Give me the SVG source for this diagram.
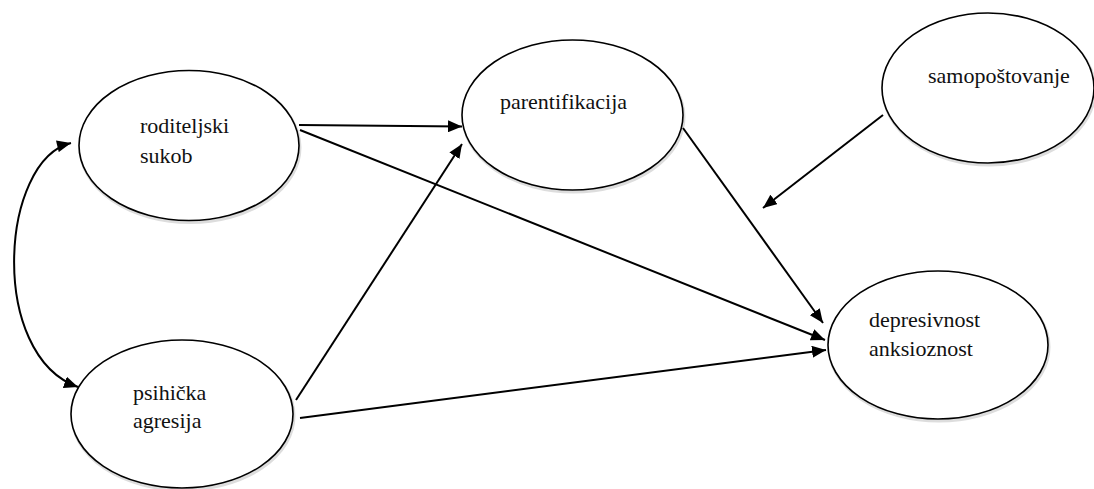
<svg xmlns="http://www.w3.org/2000/svg" width="1094" height="489" viewBox="0 0 1094 489">
<style>
.node ellipse{fill:#fff;stroke:#000;stroke-width:1.6}
.shadow{fill:none;stroke:#ddd;stroke-width:3}
text{font-size:22px;fill:#111}
.conn path,.conn line{fill:none;stroke:#000;stroke-width:2}
</style>
<defs>
<marker id="ah" markerUnits="userSpaceOnUse" markerWidth="16" markerHeight="12" refX="14" refY="6" orient="auto">
<path d="M0,0 L14,6 L0,12 Z" fill="#000"/>
</marker>
<marker id="ahs" markerUnits="userSpaceOnUse" markerWidth="16" markerHeight="12" refX="0" refY="6" orient="auto">
<path d="M14,0 L0,6 L14,12 Z" fill="#000"/>
</marker>
</defs>
<rect width="1094" height="489" fill="#fff"/>
<g font-family="Liberation Serif, DejaVu Serif, serif">
<g id="roditeljski">
<ellipse class="shadow" cx="190" cy="147.5" rx="110" ry="75"/>
<g class="node"><ellipse cx="189" cy="145.5" rx="110" ry="75"/></g>
<text x="140" y="133">roditeljski</text>
<text x="140" y="163">sukob</text>
</g>
<g id="psihicka">
<ellipse class="shadow" cx="183" cy="416" rx="111" ry="74"/>
<g class="node"><ellipse cx="182" cy="414" rx="111" ry="74"/></g>
<text x="133" y="400">psihička</text>
<text x="133" y="428">agresija</text>
</g>
<g id="parentifikacija">
<ellipse class="shadow" cx="573.5" cy="117" rx="110.5" ry="75"/>
<g class="node"><ellipse cx="572.5" cy="115" rx="110.5" ry="75"/></g>
<text x="500" y="109">parentifikacija</text>
</g>
<g id="samopostovanje">
<ellipse class="shadow" cx="989" cy="90" rx="106" ry="75"/>
<g class="node"><ellipse cx="988" cy="88" rx="106" ry="75"/></g>
<text x="928" y="83">samopoštovanje</text>
</g>
<g id="depresivnost">
<ellipse class="shadow" cx="939" cy="347" rx="110" ry="74"/>
<g class="node"><ellipse cx="938" cy="345" rx="110" ry="74"/></g>
<text x="869" y="327">depresivnost</text>
<text x="869" y="356">anksioznost</text>
</g>
</g>
<g id="connectors" class="conn">
<path d="M71,143 C0,160 -12,355 78,387" marker-start="url(#ahs)" marker-end="url(#ah)"/>
<line x1="299" y1="125" x2="462" y2="126.5" marker-end="url(#ah)"/>
<line x1="300" y1="130" x2="825" y2="340" marker-end="url(#ah)"/>
<line x1="296" y1="400" x2="462" y2="144" marker-end="url(#ah)"/>
<line x1="300" y1="418" x2="826" y2="350" marker-end="url(#ah)"/>
<line x1="683" y1="128" x2="823" y2="323" marker-end="url(#ah)"/>
<line x1="883" y1="115" x2="763" y2="208" marker-end="url(#ah)"/>
</g>
</svg>
